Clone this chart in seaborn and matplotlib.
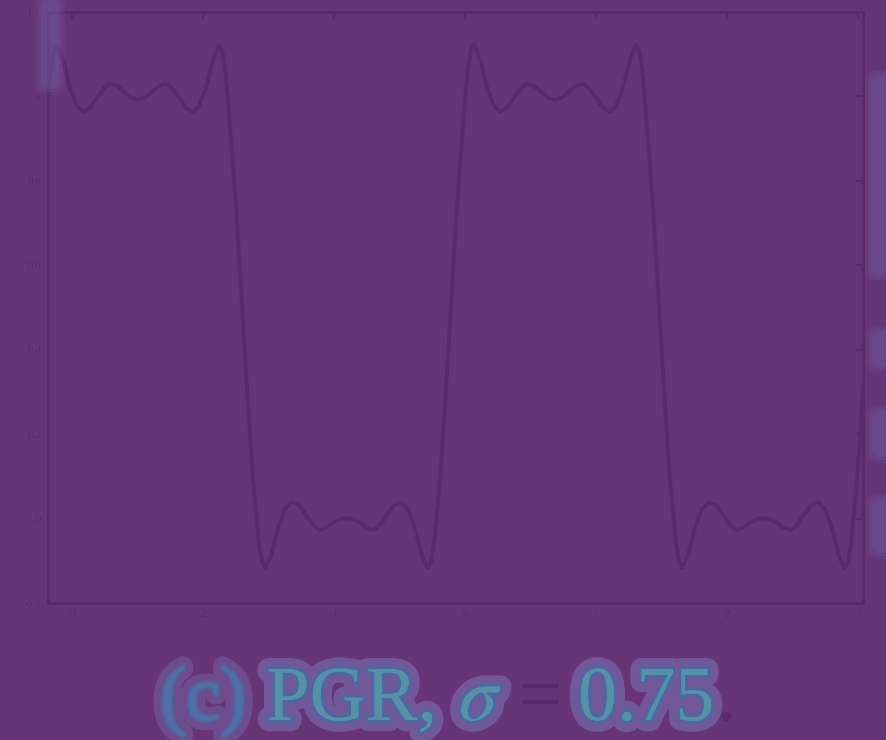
import matplotlib
matplotlib.use("Agg")
import matplotlib.pyplot as plt
import matplotlib.patheffects as pe
from matplotlib.patches import FancyBboxPatch
import seaborn as sns
import pandas as pd

# ---- data ----
x_vals = [-3.183, -3.160, -3.137, -3.115, -3.069, -3.015, -2.962, -2.916, -2.863, -2.809,
          -2.756, -2.710, -2.656, -2.603, -2.550, -2.496, -2.443, -2.389, -2.336, -2.282,
          -2.237, -2.183, -2.130, -2.076, -2.031, -1.977, -1.924, -1.878,
          -1.855, -1.832, -1.809, -1.786, -1.748, -1.702, -1.656, -1.618, -1.595, -1.573,
          -1.550, -1.523,
          -1.481, -1.427, -1.374, -1.321, -1.267, -1.214, -1.160, -1.115, -1.061, -1.008,
          -0.954, -0.905, -0.855, -0.802, -0.748, -0.695, -0.649, -0.595, -0.542, -0.489,
          -0.435, -0.382, -0.328, -0.286,
          -0.260, -0.237, -0.214, -0.191, -0.153, -0.107, -0.061, -0.023, 0.000, 0.023,
          0.046,
          0.069, 0.115, 0.168, 0.221, 0.267, 0.321, 0.374, 0.427, 0.473, 0.527,
          0.580, 0.634, 0.687, 0.740, 0.794, 0.847, 0.901, 0.947, 1.000, 1.053,
          1.107, 1.153, 1.206, 1.260, 1.305,
          1.328, 1.351, 1.374, 1.397, 1.435, 1.481, 1.527, 1.565, 1.588, 1.611,
          1.634, 1.656,
          1.702, 1.756, 1.809, 1.863, 1.916, 1.969, 2.023, 2.069, 2.122, 2.176,
          2.229, 2.279, 2.328, 2.382, 2.435, 2.489, 2.534, 2.588, 2.641, 2.695,
          2.748, 2.802, 2.855, 2.897,
          2.924, 2.947, 2.969, 2.992, 3.031, 3.038]

y_vals = [0.992, 1.068, 1.110, 1.122, 1.087, 1.020, 0.978, 0.963, 0.973, 0.997,
          1.020, 1.030, 1.025, 1.011, 0.997, 0.992, 0.997, 1.011, 1.025, 1.030,
          1.020, 0.997, 0.973, 0.963, 0.978, 1.020, 1.087, 1.122,
          1.110, 1.068, 0.992, 0.897, 0.741, 0.504, 0.267, 0.091, 0.016, -0.060,
          -0.103, -0.117,
          -0.089, -0.022, 0.023, 0.039, 0.032, 0.009, -0.015, -0.027, -0.022, -0.010,
          -0.001, 0.001, -0.001, -0.010, -0.022, -0.027, -0.015, 0.009, 0.032, 0.039,
          0.023, -0.022, -0.089, -0.117,
          -0.103, -0.060, 0.016, 0.091, 0.267, 0.504, 0.741, 0.897, 0.992, 1.068,
          1.110,
          1.122, 1.087, 1.020, 0.978, 0.963, 0.973, 0.997, 1.020, 1.030, 1.025,
          1.011, 0.997, 0.992, 0.997, 1.011, 1.025, 1.030, 1.020, 0.997, 0.973,
          0.963, 0.978, 1.020, 1.087, 1.122,
          1.110, 1.068, 0.992, 0.897, 0.741, 0.504, 0.267, 0.091, 0.016, -0.060,
          -0.103, -0.117,
          -0.089, -0.022, 0.023, 0.039, 0.032, 0.009, -0.015, -0.027, -0.022, -0.010,
          -0.001, 0.001, -0.001, -0.010, -0.022, -0.027, -0.015, 0.009, 0.032, 0.039,
          0.023, -0.022, -0.089, -0.117,
          -0.103, -0.060, 0.016, 0.091, 0.267, 0.305]

x_ticks = [-3, -2, -1, 0, 1, 2, 3]
x_tick_labels = ["-3", "-2", "-1", "0", "1", "2", "3"]
y_ticks = [-0.2, 0.0, 0.2, 0.4, 0.6, 0.8, 1.0, 1.2]
y_tick_labels = ["-0.2", "0", "0.2", "0.4", "0.6", "0.8", "1", "1.2"]
caption_parts = ["(c)", "PGR,", "$\\sigma$", "=", "0.75", "."]

# ---- style ----
bg = "#673577"
dark = "#5c2969"
halo = "#7461a2"
teal = "#5592aa"
edge = "#4b68a0"

sns.set_theme(style="white")
plt.rcParams["font.family"] = ["Liberation Serif", "DejaVu Serif"]
plt.rcParams["mathtext.fontset"] = "stix"

fig = plt.figure(figsize=(8.86, 7.40), dpi=100, facecolor=bg)

# soft glow remnants at the figure edges (layered for a blurred look)
for (x0, y0, w, h) in [(42, 0, 16, 88), (872, 78, 24, 195), (873, 333, 24, 32),
                       (873, 412, 24, 44), (873, 502, 24, 50)]:
    for pad, a in [(7, 0.18), (4, 0.22), (1, 0.3)]:
        fig.patches.append(FancyBboxPatch(((x0 - pad) / 886, 1 - (y0 + h + pad) / 740),
                                          (w + 2 * pad) / 886, (h + 2 * pad) / 740,
                                          boxstyle="round,pad=0,rounding_size=0.012",
                                          transform=fig.transFigure, facecolor="#6e5a9e",
                                          edgecolor="none", alpha=a, zorder=0))

ax = fig.add_axes([0.0542, 0.1851, 0.9198, 0.7987])
ax.set_facecolor(bg)
ax.patch.set_alpha(0.0)

df = pd.DataFrame({"x": x_vals, "y": y_vals})
sns.lineplot(data=df, x="x", y="y", ax=ax, color=dark, linewidth=2.8,
             estimator=None, sort=False)

ax.set_xlim(-3.183, 3.038)
ax.set_ylim(-0.2, 1.2)
ax.set_xticks(x_ticks)
ax.set_xticklabels(x_tick_labels)
ax.set_yticks(y_ticks)
ax.set_yticklabels(y_tick_labels)
ax.set_xlabel("")
ax.set_ylabel("")

for s in ax.spines.values():
    s.set_visible(True)
    s.set_color(dark)
    s.set_linewidth(2.2)

ax.tick_params(direction="in", top=True, right=True, length=5, width=1.5,
               color=dark, labelcolor=dark, labelsize=8, pad=5)

# caption, laid out piece by piece
glow_fx = [pe.withStroke(linewidth=16, foreground=halo, alpha=0.8),
           pe.withStroke(linewidth=4, foreground=edge), pe.Normal()]
soft_fx = [pe.withStroke(linewidth=14, foreground=halo, alpha=0.55),
           pe.withStroke(linewidth=3, foreground=edge), pe.Normal()]
styles = [dict(color="#4f6fa6", path_effects=soft_fx),
          dict(color=teal, path_effects=glow_fx),
          dict(color=teal, path_effects=glow_fx),
          dict(color=dark),
          dict(color=teal, path_effects=glow_fx),
          dict(color=dark)]
gaps = [20, 22, 16, 16, 3, 0]

renderer = fig.canvas.get_renderer()
W, H = fig.bbox.width, fig.bbox.height
x_px = 160.0
base_y = 1 - 720 / 740
for part, st, g in zip(caption_parts, styles, gaps):
    t = fig.text(x_px / W, base_y, part, ha="left", va="baseline", fontsize=56, **st)
    bb = t.get_window_extent(renderer)
    x_px = bb.x1 + g

fig.savefig("out.png", dpi=100, facecolor=bg)
